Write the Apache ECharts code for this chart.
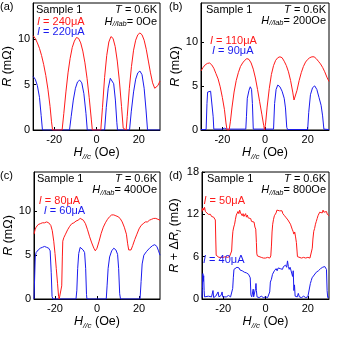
<!DOCTYPE html>
<html>
<head>
<meta charset="utf-8">
<script src="https://cdn.jsdelivr.net/npm/echarts@6/dist/echarts.min.js"></script>
<style>
html, body { margin: 0; padding: 0; background: #fff; }
#container { width: 338px; height: 338px; }
</style>
</head>
<body>
<div id="container"></div>
<script>
var FONT = "'Liberation Sans', Arial, sans-serif";
var RED = '#ff1a1a';
var BLUE = '#1a1aee';

// tick values
var xTicks = [-20, 0, 20];
var yTicksR = [0, 5, 10];
var yTicksD = [0, 6, 12, 18];

// labels
var panelNames = ['(a)', '(b)', '(c)', '(d)'];
var fieldLab = ['0Oe', '200Oe', '400Oe', '800Oe'];
var currentRed = ['240μA', '110μA', '80μA', '50μA'];
var currentBlue = ['220μA', '90μA', '60μA', '40μA'];

// (a) H//lab = 0Oe   [H//c (Oe), R (mOhm)]
var aRed = [[-30,10.4],[-29,10.1],[-28,9.6],[-27,9.0],[-26,8.2],[-25,7.2],[-24,6.0],[-23,4.5],[-22,2.6],[-21.3,0.9],[-20.8,0],
  [-16.3,0],[-15.5,1.8],[-14.5,4.2],[-13.5,6.3],[-12.5,7.9],[-11.5,9.1],[-10.5,9.8],[-9.5,10.2],[-8.5,10.1],[-7.5,9.6],
  [-6.5,8.7],[-5.5,7.4],[-4.5,5.7],[-3.5,3.6],[-2.5,1.2],[-2,0],[2,0],[2.8,2.5],[3.8,5.8],[4.8,8.2],[5.8,9.7],[6.8,10.3],
  [7.8,10.1],[8.8,9.2],[9.8,7.6],[10.8,5.4],[11.8,2.6],[12.6,0.2],[13,0],[14,0],[14.5,1.5],[15.5,4.6],[16.5,7.0],[17.5,8.8],
  [18.5,9.9],[19.5,10.5],[20.5,10.7],[21.5,10.5],[22.5,9.9],[23.5,8.9],[24.5,7.6],[25.5,6.3],[26.5,5.2],[27.5,4.6],
  [28.2,4.6],[29,4.9],[30,5.4]];
var aBlue = [[-30,5.9],[-29,5.6],[-28,4.9],[-27,3.6],[-26.2,1.6],[-25.6,0],[-12.8,0],[-12,1.5],[-11,3.3],[-10,4.6],[-9,5.3],
  [-8,5.5],[-7,5.2],[-6,4.0],[-5,1.8],[-4.4,0],[3.8,0],[4.6,2.5],[5.5,4.6],[6.5,5.7],[7.3,5.8],[8.1,5.1],[8.9,3.3],[9.6,0.8],
  [9.9,0],[15.6,0],[16.4,2.0],[17.5,4.2],[18.5,5.6],[19.5,6.3],[20.5,6.5],[21.5,6.1],[22.5,4.6],[23.4,2.2],[24.1,0],[30,0]];

// (b) H//lab = 200Oe
var bRed = [[-30,6.7],[-29,7.1],[-28,7.4],[-27,7.55],[-26,7.6],[-25,7.4],[-24,7.0],[-23,6.4],[-22,5.8],[-21,4.9],[-20,3.7],
  [-19,2.3],[-18.3,0.8],[-17.8,0],[-16.8,0],[-16.2,1.0],[-15.5,2.5],[-14.5,4.3],[-13.5,5.6],[-12.5,6.5],[-11.5,7.2],
  [-10.5,7.6],[-9.5,7.9],[-8.5,8.1],[-7.5,8.0],[-6.5,7.6],[-5.5,6.9],[-4.5,5.9],[-3.5,4.6],[-2.5,3.2],[-1.5,1.8],[-0.6,0.5],
  [-0.2,0],[0.3,0.8],[1,2.6],[2,4.7],[3,6.3],[4,7.3],[5,7.9],[6,8.2],[7,8.3],[8,8.2],[9,7.8],[10,7.3],[11,6.6],[12,5.6],
  [13,4.3],[13.6,3.4],[14.2,3.5],[15,4.5],[16,5.6],[17,6.5],[18,7.2],[19,7.7],[20,8.0],[21,8.2],[22,8.3],[23,8.3],[24,8.1],
  [25,7.8],[26,7.5],[27,7.1],[28,6.6],[29,6.0],[30,5.5]];
var bBlue = [[-30,0.05],[-27.6,0.05],[-27.2,3.0],[-26.9,4.3],[-25.5,4.4],[-24.7,4.3],[-24.3,1.5],[-24,0.1],[-20,0.1],
  [-19,0.2],[-18,0.1],[-9,0.1],[-8.7,1.5],[-8.3,3.6],[-7.5,4.5],[-6.9,4.9],[-6.3,4.6],[-5.9,3.0],[-5.5,0.1],[4.0,0.1],
  [4.5,3.0],[5.2,4.6],[6.0,5.1],[7,4.9],[8,4.4],[9,3.6],[9.6,2.5],[10.2,0.3],[10.6,0.05],[20.0,0.05],[20.5,2.0],[21.3,4.0],
  [22.3,4.8],[23.3,5.0],[24.3,4.6],[25.3,3.7],[26.3,2.8],[27.0,1.6],[27.6,0.1],[30,0.05]];

// (c) H//lab = 400Oe
var cRed = [[-30,7.4],[-29.5,7.9],[-29,8.2],[-28,8.5],[-27,8.6],[-26,8.7],[-25,8.7],[-24,8.8],[-23,8.7],[-22,8.4],
  [-21.3,7.8],[-20.6,6.6],[-20,5.2],[-19.4,3.5],[-18.8,1.8],[-18.3,0.3],[-18,0],[-17.3,0],[-16.8,1.5],[-16.5,4.8],
  [-16.3,6.6],[-15.8,7.0],[-15,7.4],[-14,7.9],[-13,8.3],[-12,8.6],[-11,8.7],[-10,8.9],[-9,9.0],[-8,9.2],[-7.3,9.3],
  [-6.5,9.0],[-5.5,8.6],[-4.5,7.9],[-3.5,7.1],[-2.5,6.4],[-1.5,5.8],[-0.8,5.5],[0,5.8],[1,6.6],[2,7.5],[3,8.2],[4,8.7],
  [5,9.1],[6,9.4],[7,9.6],[8,9.6],[9,9.5],[10,9.4],[11,9.2],[12,8.8],[13,8.2],[14,7.4],[14.6,6.3],[15.1,5.6],[15.6,5.8],
  [16.2,5.6],[17,6.1],[18,6.8],[19,7.4],[20,8.0],[21,8.4],[22,8.6],[23,8.8],[24,8.8],[25,9.0],[26,9.1],[27,9.2],[28,9.2],
  [29,9.1],[30,9.0]];
var cBlue = [[-30,0],[-29.7,0],[-29.4,4.8],[-29,5.3],[-28,5.6],[-27,5.8],[-26,5.9],[-25,6.0],[-24,5.9],[-23,5.8],
  [-22.3,5.5],[-21.8,3.0],[-21.4,0.3],[-21,0],[-10,0],[-9.6,1.0],[-9.2,3.5],[-8.7,5.2],[-8,5.9],[-7.3,6.0],[-6.6,5.6],
  [-5.9,5.3],[-5.4,3.5],[-5.0,0.5],[-4.8,0],[4.4,0],[4.8,1.5],[5.3,3.5],[6,4.8],[7,5.5],[8,5.8],[9,5.6],[9.8,5.1],
  [10.3,3.5],[10.8,0.6],[11.2,0],[20.5,0],[21,2.0],[21.5,4.0],[22.3,5.0],[23.5,5.4],[25,5.8],[26.5,6.1],[27.5,6.2],
  [28.5,6.0],[29.3,5.5],[30,5.0]];

// (d) H//lab = 800Oe   [H//c (Oe), R + dR (mOhm)]
var dRed = [[-30,12.4],[-29.6,12.9],[-29.2,12.6],[-28.8,13.0],[-28.4,12.4],[-28,12.2],[-27.5,12.3],[-27,12.0],[-26.5,11.9],
  [-26,12.0],[-25.5,11.7],[-25,11.8],[-24.5,11.6],[-24,11.5],[-23.7,11.2],[-23.5,8.5],[-23.3,6.2],[-23,6.0],[-22,5.9],
  [-21,5.9],[-20,5.9],[-19,6.0],[-18,5.9],[-17,6.0],[-16.2,6.0],[-16,6.8],[-15.7,8.5],[-15.4,9.6],[-15,10.2],[-14.6,10.6],
  [-14.2,11.3],[-13.8,11.9],[-13.4,12.0],[-13,12.4],[-12.6,12.1],[-12.2,12.6],[-11.8,12.2],[-11.4,12.0],[-11,11.8],
  [-10.6,12.1],[-10.2,11.7],[-9.8,11.9],[-9.4,12.1],[-9,11.6],[-8.6,11.9],[-8.2,11.5],[-7.8,11.7],[-7.4,11.3],[-7,11.4],
  [-6.6,11.0],[-6.2,11.2],[-5.8,10.8],[-5.4,10.9],[-5,10.2],[-4.6,9.9],[-4.3,8.0],[-4.1,6.4],[-3.8,6.1],[-3,6.0],[-2,5.9],
  [-1,5.8],[0,5.8],[1,5.9],[2,5.8],[2.5,6.1],[2.8,7.5],[3.1,9.5],[3.4,10.6],[3.8,11.3],[4.2,11.8],[4.6,12.0],[5,12.2],
  [5.4,12.6],[5.8,12.4],[6.2,12.8],[6.6,12.5],[7,12.7],[7.4,12.3],[7.8,12.5],[8.2,12.1],[8.6,12.2],[9,11.8],[9.4,12.0],
  [9.8,11.5],[10.2,11.6],[10.6,11.2],[11,11.3],[11.4,11.0],[11.8,10.6],[12.2,10.8],[12.6,9.9],[13,9.6],[13.4,9.2],
  [13.8,9.5],[14.2,8.8],[14.6,8.0],[14.9,6.8],[15.1,6.0],[16,5.9],[17,5.8],[18,5.9],[19,5.8],[20,5.9],[21,5.8],[21.8,5.9],
  [22.1,7.2],[22.4,8.5],[22.8,9.6],[23.2,10.0],[23.6,10.6],[24,11.0],[24.4,11.4],[24.8,11.8],[25.2,11.9],[25.6,12.3],
  [26,12.1],[26.4,12.5],[26.8,12.2],[27.2,12.6],[27.6,12.3],[28,12.5],[28.4,12.2],[28.8,12.4],[29.2,12.0],[29.6,12.1],
  [30,11.8]];
var dBlue = [[-30,0.2],[-29.8,1.5],[-29.6,3.6],[-29.4,2.5],[-29.2,3.3],[-29,1.2],[-28.8,0.3],[-28,0.2],[-27,0.4],
  [-26.5,0.2],[-25.5,0.3],[-24.8,1.2],[-24.5,0.2],[-23.5,0.4],[-22.8,0.3],[-22.4,1.0],[-22,0.3],[-21,0.5],[-20.5,1.0],
  [-20.2,0.3],[-19.5,0.4],[-18.5,0.3],[-17.5,0.5],[-16.5,0.3],[-15.8,0.4],[-15.5,1.5],[-15.2,3.0],[-14.9,4.2],[-14.5,4.4],
  [-14,4.2],[-13.5,4.5],[-13,4.3],[-12.5,4.4],[-12,4.1],[-11.5,4.3],[-11,4.0],[-10.5,4.1],[-10,3.8],[-9.5,4.0],[-9,3.7],
  [-8.5,3.9],[-8,3.5],[-7.6,3.7],[-7.2,3.0],[-6.9,0.6],[-6.5,0.3],[-6,0.4],[-5.8,1.4],[-5.6,0.3],[-5,0.3],[-4.7,1.5],
  [-4.5,2.2],[-4.3,1.2],[-4.0,0.3],[-3,0.2],[-2,0.4],[-1,0.2],[0,0.3],[1,0.2],[1.5,0.4],[2,1.0],[2.3,2.4],[2.8,2.8],
  [3.3,3.5],[3.8,3.3],[4.2,4.0],[4.6,4.1],[5,4.3],[5.5,4.0],[6,4.4],[6.5,4.6],[7,4.3],[7.5,4.5],[8,4.2],[8.5,4.6],[9,4.4],
  [9.5,4.8],[10,4.5],[10.4,5.4],[10.8,4.6],[11.2,4.2],[11.6,4.5],[12,4.1],[12.4,4.3],[12.8,3.2],[13.1,4.0],[13.4,1.2],
  [13.7,2.0],[14,0.4],[14.5,0.6],[15,0.3],[15.5,0.8],[16,0.3],[17,0.2],[18,0.4],[19,0.2],[20,0.3],[20.8,0.4],[21.2,2.2],
  [21.6,2.6],[22,3.0],[22.5,3.2],[23,3.4],[23.5,3.6],[24,3.8],[24.5,3.7],[25,4.0],[25.5,4.1],[26,4.3],[26.5,4.2],[27,4.5],
  [27.5,4.4],[28,4.6],[28.4,4.5],[28.8,4.2],[29.1,1.2],[29.4,0.2],[30,0.3]];

var redData = [aRed, bRed, cRed, dRed];
var blueData = [aBlue, bBlue, cBlue, dBlue];
var yMax = [14, 14.4, 14.5, 18];

// layout of the four panels
var grids = [
  {left: 33, top: 3, width: 127, height: 127},
  {left: 201, top: 3, width: 128, height: 127},
  {left: 34, top: 172, width: 126, height: 127},
  {left: 202, top: 172, width: 127, height: 127}
];
// text anchors per panel: [sampleLeft, rightEdge, top1, top2, redLeft, redTop, blueLeft, blueTop]
var textPos = [
  [36, 157, 4, 16.2, 37, 16.2, 37, 26.8],
  [206, 326, 4, 15.2, 210, 35.2, 212, 45.8],
  [37, 157, 173.2, 184.8, 38.7, 195.2, 43.7, 205.8],
  [207, 326, 173.2, 184.8, 203.5, 195.8, 203, 254.2]
];

function axisRich() {
  return {
    n: {fontSize: 12.5, fontFamily: FONT, color: '#000', lineHeight: 16},
    i: {fontSize: 12.5, fontFamily: FONT, color: '#000', fontStyle: 'italic', lineHeight: 16},
    s: {fontSize: 8, fontFamily: FONT, color: '#000', fontStyle: 'italic', lineHeight: 8, verticalAlign: 'bottom'}
  };
}

function zrRich(color) {
  return {
    n: {fill: color, font: '11px ' + FONT, lineHeight: 13},
    i: {fill: color, font: 'italic 11px ' + FONT, lineHeight: 13},
    s: {fill: color, font: 'italic 7.5px ' + FONT, lineHeight: 7, verticalAlign: 'bottom'}
  };
}

function textEl(txt, color, left, top, right) {
  var el = {type: 'text', top: top, z: 100, silent: true,
    style: {text: txt, fill: color, font: '11px ' + FONT, rich: zrRich(color)}};
  if (right != null) el.right = 338 - right; else el.left = left;
  return el;
}

function buildOption() {
  var option = {
    animation: false,
    backgroundColor: '#fff',
    grid: [], xAxis: [], yAxis: [], series: [], graphic: []
  };
  for (var k = 0; k < 4; k++) {
    var g = grids[k];
    option.grid.push({left: g.left, top: g.top, width: g.width, height: g.height,
      show: true, borderColor: '#000', borderWidth: 1, backgroundColor: 'transparent'});
    option.xAxis.push({
      gridIndex: k, type: 'value', min: -30, max: 30,
      name: '{i|H}{s|//c}{n| (Oe)}', nameLocation: 'middle', nameGap: 14,
      nameTextStyle: {rich: axisRich()},
      axisLine: {onZero: false, lineStyle: {color: '#000', width: 1}},
      axisTick: {inside: true, length: 3, customValues: xTicks, lineStyle: {color: '#000'}},
      axisLabel: {customValues: xTicks, fontSize: 11, fontFamily: FONT, color: '#000', margin: 4},
      splitLine: {show: false}
    });
    var yt = k === 3 ? yTicksD : yTicksR;
    option.yAxis.push({
      gridIndex: k, type: 'value', min: 0, max: yMax[k],
      name: k === 3 ? '{i|R}{n| + Δ}{i|R}{s|I}{n| (mΩ)}' : '{i|R}{n| (mΩ)}',
      nameLocation: 'middle', nameGap: 16,
      nameTextStyle: {rich: axisRich()},
      axisLine: {onZero: false, lineStyle: {color: '#000', width: 1}},
      axisTick: {inside: true, length: 3, customValues: yt, lineStyle: {color: '#000'}},
      axisLabel: {customValues: yt, fontSize: 11, fontFamily: FONT, color: '#000', margin: 3},
      splitLine: {show: false}
    });
    option.series.push({type: 'line', xAxisIndex: k, yAxisIndex: k, data: blueData[k],
      showSymbol: false, symbol: 'none', clip: true, lineStyle: {width: 1, color: BLUE}, itemStyle: {color: BLUE}});
    option.series.push({type: 'line', xAxisIndex: k, yAxisIndex: k, data: redData[k],
      showSymbol: false, symbol: 'none', clip: true, lineStyle: {width: 1, color: RED}, itemStyle: {color: RED}});

    var p = textPos[k];
    var px = k % 2 === 0 ? 0 : 169;
    var py = k < 2 ? 1 : 170.5;
    option.graphic.push(textEl('{n|' + panelNames[k] + '}', '#000', px, py));
    option.graphic.push(textEl('{n|Sample 1}', '#000', p[0], p[2]));
    option.graphic.push(textEl('{i|T}{n| = 0.6K}', '#000', null, p[2], p[1]));
    option.graphic.push(textEl('{i|H}{s|//lab}{n|= ' + fieldLab[k] + '}', '#000', null, p[3], p[1]));
    option.graphic.push(textEl('{i|I}{n| = ' + currentRed[k] + '}', RED, p[4], p[5]));
    option.graphic.push(textEl('{i|I}{n| = ' + currentBlue[k] + '}', BLUE, p[6], p[7]));
  }
  return option;
}

var chart = echarts.init(document.getElementById('container'), null, {renderer: 'canvas'});
chart.setOption(buildOption());
</script>
</body>
</html>
